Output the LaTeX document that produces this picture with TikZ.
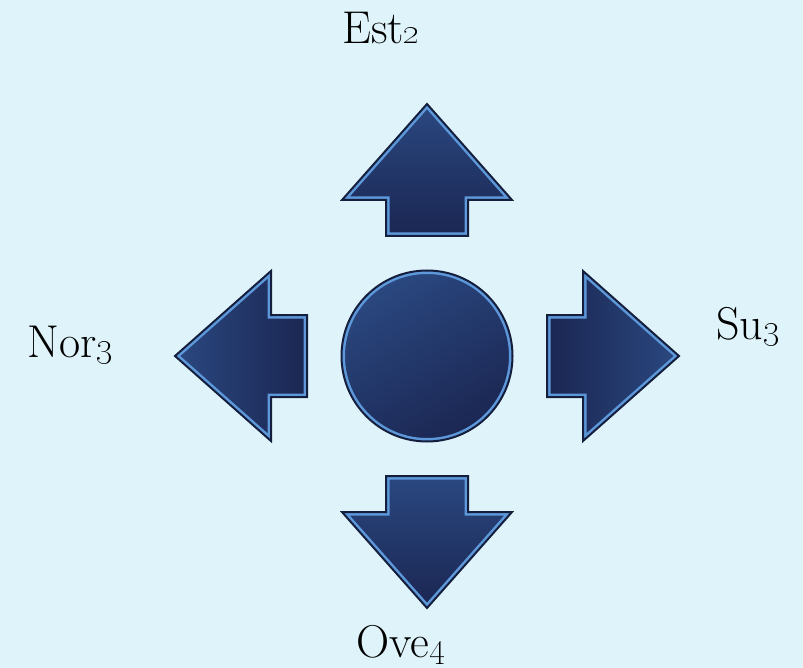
\documentclass[tikz,border=0pt]{standalone}
\usetikzlibrary{calc}
\definecolor{bgc}{RGB}{223,244,250}
\definecolor{navylt}{RGB}{42,72,128}
\definecolor{navydk}{RGB}{27,38,82}
\definecolor{edgedk}{RGB}{22,30,62}
\definecolor{edgelt}{RGB}{92,152,218}
\tikzset{
  x=1pt,y=1pt,
  shapeedge/.style={draw=edgedk,line width=2pt,line join=miter},
  shapeglow/.style={draw=edgelt,line width=7pt,line join=miter},
  lbl/.style={anchor=base,inner sep=0pt,font=\fontsize{46}{54}\selectfont}
}
\newcommand{\arrowpath}{(-41,120) -- (41,120) -- (41,156) -- (85,156) -- (0,252) -- (-85,156) -- (-41,156) -- cycle}
\newcommand{\fancyarrow}[1]{%
  \fill[#1] \arrowpath;
  \begin{scope}\clip \arrowpath; \draw[shapeglow] \arrowpath; \end{scope}
  \draw[shapeedge] \arrowpath;}
\begin{document}
\begin{tikzpicture}
\fill[bgc] (0,0) rectangle (803,-668);
\useasboundingbox (0,0) rectangle (803,-668);
\coordinate (c) at (427,-356);
% center circle
\node[circle,minimum size=171pt,inner sep=0pt,
      top color=navylt,bottom color=navydk,shading angle=30] (hub) at (c) {};
\begin{scope}\clip (hub.center) circle (85.5pt);
  \draw[edgelt,line width=7pt] (hub.center) circle (85.5pt);
\end{scope}
\draw[edgedk,line width=2pt] (hub.center) circle (85.5pt);
% arrows
\begin{scope}[shift={(c)}]
  \fancyarrow{top color=navylt,bottom color=navydk}
\end{scope}
\begin{scope}[shift={(c)},rotate=180]
  \fancyarrow{top color=navylt,bottom color=navydk}
\end{scope}
\begin{scope}[shift={(c)},rotate=90]
  \fancyarrow{left color=navylt,right color=navydk}
\end{scope}
\begin{scope}[shift={(c)},rotate=-90]
  \fancyarrow{left color=navydk,right color=navylt}
\end{scope}
% labels
\node[lbl] (est) at (381,-44) {Est\oldstylenums{2}};
\node[lbl] (nor) at (70,-357) {Nor\oldstylenums{3}};
\node[lbl] (su) at (748,-339) {Su\oldstylenums{3}};
\node[lbl] (ove) at (401,-657) {Ove\oldstylenums{4}};
\end{tikzpicture}
\end{document}
